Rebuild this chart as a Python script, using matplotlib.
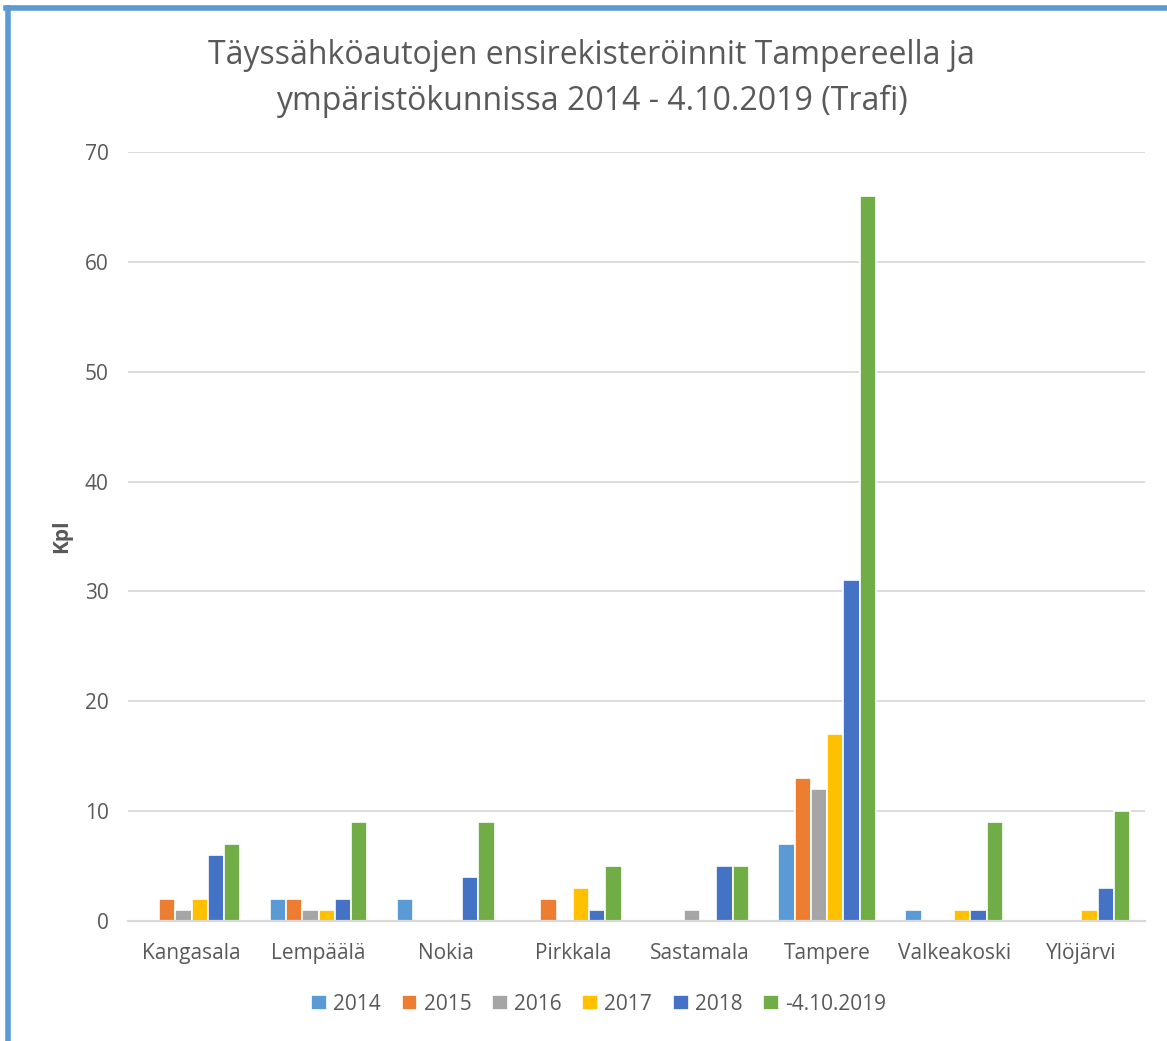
import numpy as np
import matplotlib.pyplot as plt
from matplotlib.lines import Line2D

plt.rcParams['font.family'] = ['Open Sans', 'DejaVu Sans']

# Data
kunnat = ["Kangasala", "Lempäälä", "Nokia", "Pirkkala", "Sastamala",
          "Tampere", "Valkeakoski", "Ylöjärvi"]
sarjat = ["2014", "2015", "2016", "2017", "2018", "-4.10.2019"]
v2014 = [0, 2, 2, 0, 0, 7, 1, 0]
v2015 = [2, 2, 0, 2, 0, 13, 0, 0]
v2016 = [1, 1, 0, 0, 1, 12, 0, 0]
v2017 = [2, 1, 0, 3, 0, 17, 1, 1]
v2018 = [6, 2, 4, 1, 5, 31, 1, 3]
v2019 = [7, 9, 9, 5, 5, 66, 9, 10]
varit = ["#5B9BD5", "#ED7D31", "#A5A5A5", "#FFC000", "#4472C4", "#70AD47"]

arvot = [v2014, v2015, v2016, v2017, v2018, v2019]
teksti = "#595959"

fig = plt.figure(figsize=(11.67, 10.41), dpi=100)
ax = fig.add_axes([0.1097, 0.1153, 0.8713, 0.7387])

x = np.arange(len(kunnat))
w = 0.128
for i, (nimi, v, c) in enumerate(zip(sarjat, arvot, varit)):
    ax.bar(x + (i - 2.5) * w, v, w, color=c, edgecolor="white",
           linewidth=1.2, label=nimi, zorder=2)

ax.set_xlim(-0.5, len(kunnat) - 0.5)
ax.set_ylim(0, 70)
ax.set_yticks(range(0, 71, 10))
ax.set_xticks(x)
ax.set_xticklabels(kunnat)
ax.grid(axis="y", color="#D9D9D9", linewidth=1.3, zorder=0)
ax.tick_params(length=0, labelsize=15, colors=teksti, pad=16)
ax.tick_params(axis="y", pad=14)
for s in ["top", "right", "left"]:
    ax.spines[s].set_visible(False)
ax.spines["bottom"].set_color("#D9D9D9")
ax.spines["bottom"].set_linewidth(1.6)
ax.spines["bottom"].set_zorder(4)

ax.set_ylabel("Kpl", fontsize=15, fontweight="bold", color=teksti, labelpad=9)

fig.text(0.507, 0.925, "Täyssähköautojen ensirekisteröinnit Tampereella ja\n"
         "ympäristökunnissa 2014 - 4.10.2019 (Trafi)",
         ha="center", va="center", fontsize=23, color=teksti, linespacing=1.5)

fig.legend(loc="center", bbox_to_anchor=(0.513, 0.035), ncol=6, frameon=False,
           fontsize=15, labelcolor=teksti, handlelength=0.75, handleheight=0.75,
           handletextpad=0.3, columnspacing=1.0)

# blue frame on top and left
fig.add_artist(Line2D([8 / 1167, 8 / 1167], [0, 1 - 8 / 1041],
                      transform=fig.transFigure, color="#5B9BD5", linewidth=4))
fig.add_artist(Line2D([6 / 1167, 1], [1 - 8 / 1041, 1 - 8 / 1041],
                      transform=fig.transFigure, color="#5B9BD5", linewidth=4))

fig.savefig("out.png", dpi=100)
